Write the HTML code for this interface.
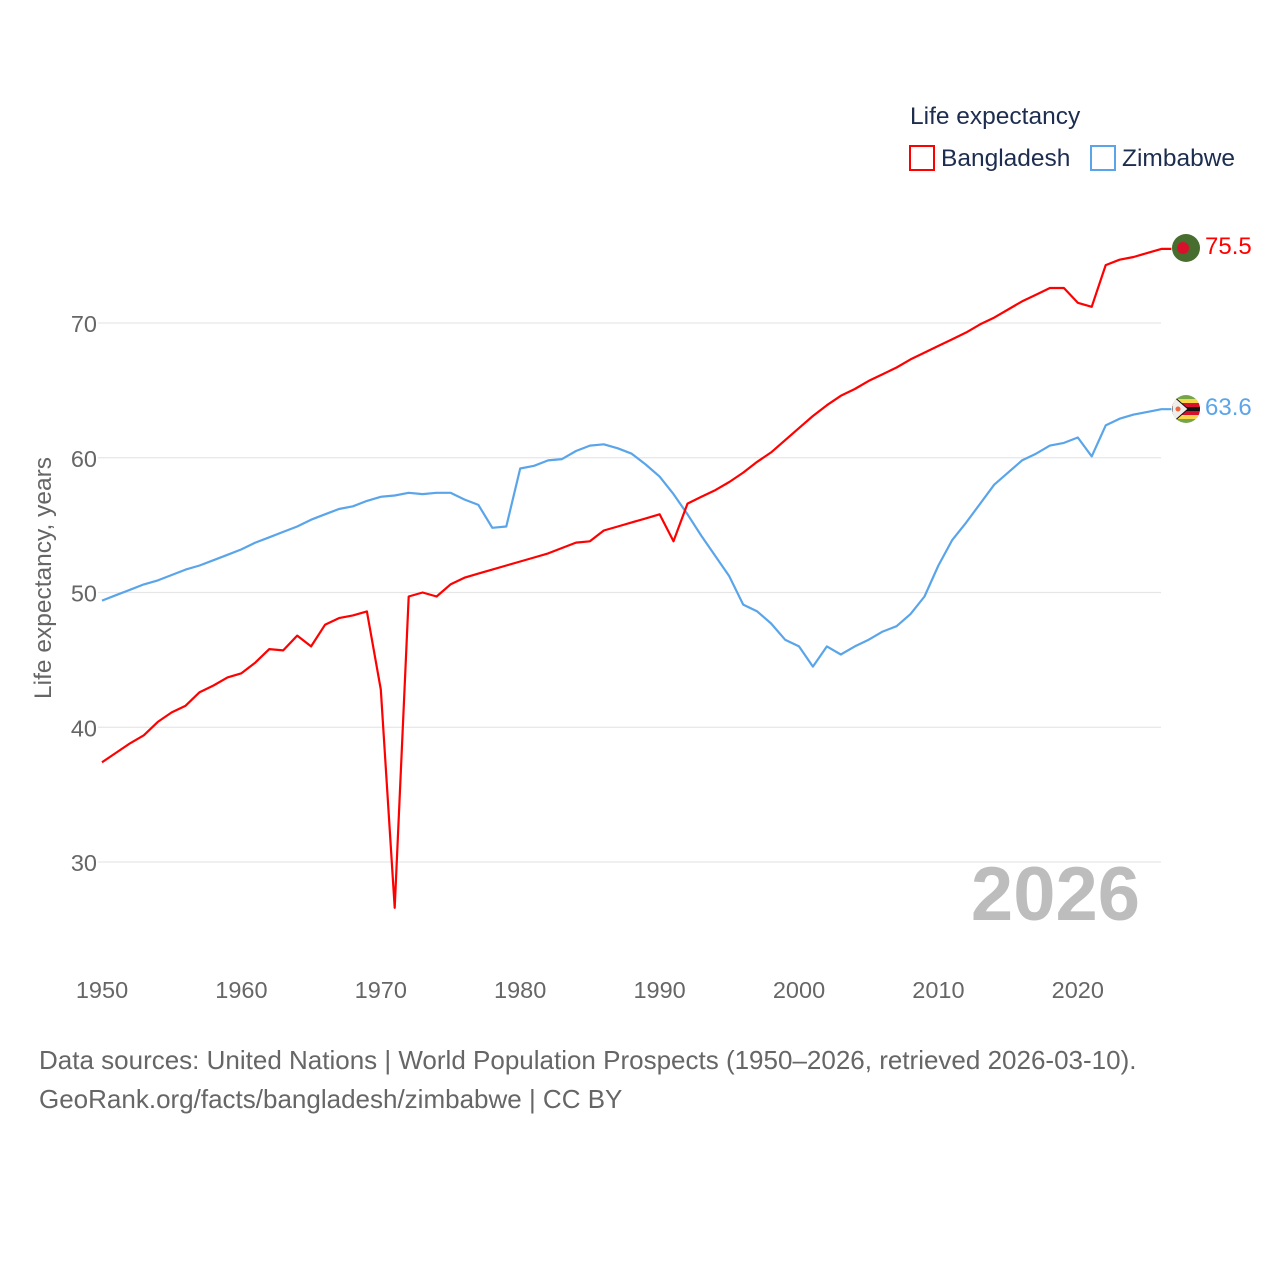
<!DOCTYPE html>
<html><head><meta charset="utf-8">
<style>
body{margin:0;background:#fff;font-family:"Liberation Sans",sans-serif;}
svg text{font-family:"Liberation Sans",sans-serif;}
</style></head>
<body>
<svg id="chart" width="1280" height="1280" viewBox="0 0 1280 1280" xmlns="http://www.w3.org/2000/svg">
<defs>
<clipPath id="c2"><circle cx="1186" cy="409" r="14"/></clipPath>
</defs>
<rect width="1280" height="1280" fill="#fff"/>
<g id="grid"></g>
<g id="yticks"></g>
<g id="xticks"></g>
<text transform="translate(51,578) rotate(-90)" text-anchor="middle" font-size="24.5" fill="#666">Life expectancy, years</text>
<text x="1140" y="920" text-anchor="end" font-size="76" font-weight="bold" fill="#bdbdbd">2026</text>
<g id="lines"></g>
<text x="910" y="124" font-size="24.5" fill="#1d2d4f">Life expectancy</text>
<g>
<rect x="910" y="146" width="24" height="24" fill="none" stroke="#ff0000" stroke-width="2"/>
<text x="941" y="166" font-size="24.5" fill="#1d2d4f">Bangladesh</text></g>
<g>
<rect x="1091" y="146" width="24" height="24" fill="none" stroke="#5aa5ea" stroke-width="2"/>
<text x="1122" y="166" font-size="24.5" fill="#1d2d4f">Zimbabwe</text></g>
<g>
<circle cx="1186" cy="248" r="14" fill="#476e2f"/><circle cx="1183" cy="248" r="6" fill="#d8102c"/></g>
<g clip-path="url(#c2)">
<rect x="1172" y="395" width="28" height="28" fill="#76a545"/>
<rect x="1172" y="399" width="28" height="4" fill="#f8d64a"/>
<rect x="1172" y="403" width="28" height="4" fill="#d8102c"/>
<rect x="1172" y="407" width="28" height="4" fill="#111"/>
<rect x="1172" y="411" width="28" height="4" fill="#d8102c"/>
<rect x="1172" y="415" width="28" height="4" fill="#f8d64a"/>
<polygon points="1172,395 1188,409 1172,423" fill="#eee" stroke="#111" stroke-width="1"/>
<circle cx="1178" cy="409" r="2.5" fill="#e63"/></g>
<text x="1205" y="254" font-size="24" fill="#ff0000">75.5</text>
<text x="1205" y="415" font-size="24" fill="#5aa5ea">63.6</text>
<text x="39" y="1069" font-size="26" fill="#666">Data sources: United Nations | World Population Prospects (1950–2026, retrieved 2026-03-10).</text>
<text x="39" y="1108" font-size="26" fill="#666">GeoRank.org/facts/bangladesh/zimbabwe | CC BY</text>
</svg>
<script>
const years=[];for(let y=1950;y<=2026;y++)years.push(y);
const bangladesh=[37.4,38.1,38.8,39.4,40.4,41.1,41.6,42.6,43.1,43.7,44.0,44.8,45.8,45.7,46.8,46.0,47.6,48.1,48.3,48.6,42.8,26.6,49.7,50.0,49.7,50.6,51.1,51.4,51.7,52.0,52.3,52.6,52.9,53.3,53.7,53.8,54.6,54.9,55.2,55.5,55.8,53.8,56.6,57.1,57.6,58.2,58.9,59.7,60.4,61.3,62.2,63.1,63.9,64.6,65.1,65.7,66.2,66.7,67.3,67.8,68.3,68.8,69.3,69.9,70.4,71.0,71.6,72.1,72.6,72.6,71.5,71.2,74.3,74.7,74.9,75.2,75.5];
const zimbabwe=[49.4,49.8,50.2,50.6,50.9,51.3,51.7,52.0,52.4,52.8,53.2,53.7,54.1,54.5,54.9,55.4,55.8,56.2,56.4,56.8,57.1,57.2,57.4,57.3,57.4,57.4,56.9,56.5,54.8,54.9,59.2,59.4,59.8,59.9,60.5,60.9,61.0,60.7,60.3,59.5,58.6,57.3,55.8,54.2,52.7,51.2,49.1,48.6,47.7,46.5,46.0,44.5,46.0,45.4,46.0,46.5,47.1,47.5,48.4,49.7,52.0,53.9,55.2,56.6,58.0,58.9,59.8,60.3,60.9,61.1,61.5,60.1,62.4,62.9,63.2,63.4,63.6];
const yTicks=[30,40,50,60,70];
const xTicks=[1950,1960,1970,1980,1990,2000,2010,2020];
const NS="http://www.w3.org/2000/svg";
const xs=y=>102+(y-1950)*13.94;
const ys=v=>323+(70-v)*13.475;
function mk(tag,attrs,parent,text){const e=document.createElementNS(NS,tag);for(const k in attrs)e.setAttribute(k,attrs[k]);if(text!==undefined)e.textContent=text;parent.appendChild(e);return e;}
const grid=document.getElementById('grid'),yt=document.getElementById('yticks'),xt=document.getElementById('xticks'),ln=document.getElementById('lines');
yTicks.forEach(v=>{
 const l=mk('line',{x1:98,x2:1161,y1:ys(v),y2:ys(v),stroke:'#e6e6e6','stroke-width':1.3},grid);
 
 
 const t=mk('text',{x:97,y:ys(v)+9,'text-anchor':'end','font-size':23.5,fill:'#666'},yt,String(v));
 
 
});
xTicks.forEach(v=>{
 const t=mk('text',{x:xs(v),y:998,'text-anchor':'middle','font-size':23.5,fill:'#666'},xt,String(v));
 
 
});
function line(data){return years.map((y,i)=>(i?'L':'M')+xs(y).toFixed(1)+','+ys(data[i]).toFixed(1)).join('');}
const p1=mk('path',{d:line(zimbabwe)+'h10',fill:'none',stroke:'#5aa5ea','stroke-width':2.2,'stroke-linejoin':'round'},ln);


const p2=mk('path',{d:line(bangladesh)+'h10',fill:'none',stroke:'#ff0000','stroke-width':2.2,'stroke-linejoin':'round'},ln);


</script>
</body></html>
